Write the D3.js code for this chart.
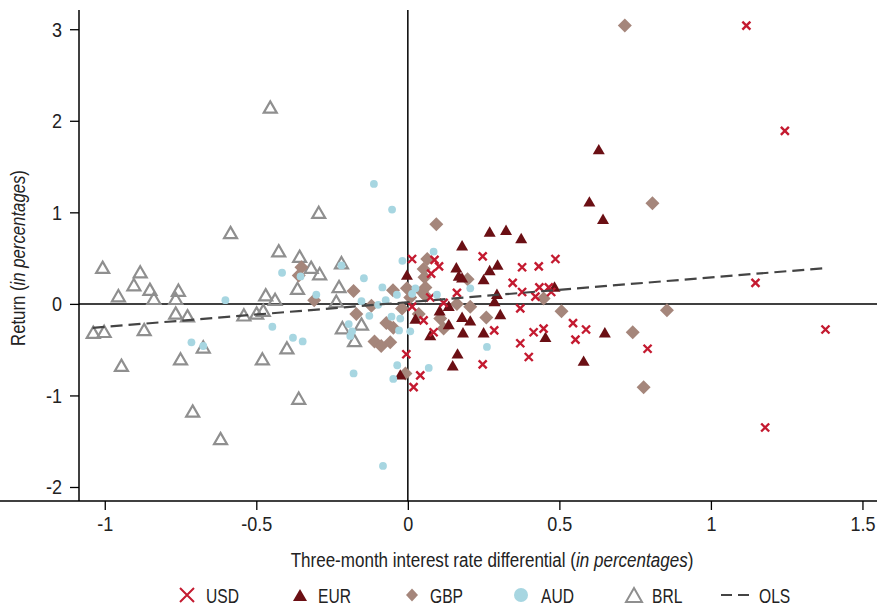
<!DOCTYPE html>
<html>
<head>
<meta charset="utf-8">
<script src="https://cdn.jsdelivr.net/npm/d3@7"></script>
<style>
  html, body { margin: 0; padding: 0; background: #fff; }
  svg { display: block; font-family: "Liberation Sans", Arial, sans-serif; }
</style>
</head>
<body>
<svg id="chart" width="877" height="607"></svg>
<script>
// Three-month interest rate differential (x) vs. return (y), in percentages
const usd = [[1.117,3.04],[1.244,1.89],[1.147,0.23],[1.378,-0.28],[1.179,-1.35],[0.791,-0.49],[0.487,0.49],[0.377,0.40],[0.432,0.41],[0.377,0.13],[0.434,0.18],[0.465,0.18],[0.473,0.13],[0.421,0.08],[0.371,-0.05],[0.545,-0.21],[0.588,-0.28],[0.415,-0.31],[0.448,-0.27],[0.553,-0.39],[0.371,-0.43],[0.399,-0.58],[0.247,0.52],[0.014,0.49],[0.088,0.48],[0.103,0.41],[0.077,0.33],[0.346,0.23],[0.162,0.12],[0.074,0.07],[0.118,0.01],[0.014,-0.03],[0.052,-0.18],[0.085,-0.31],[0.285,-0.29],[0.247,-0.66],[-0.005,-0.55],[0.041,-0.78],[0.019,-0.91]];
const eur = [[0.630,1.69],[0.599,1.12],[0.644,0.93],[0.374,0.72],[0.270,0.79],[0.324,0.81],[0.179,0.64],[0.484,0.19],[0.454,-0.36],[0.650,-0.31],[0.580,-0.62],[0.270,0.37],[0.296,0.43],[0.160,0.40],[0.168,0.31],[-0.003,0.32],[0.250,0.27],[0.179,0.29],[0.294,0.11],[0.286,0.03],[0.135,-0.02],[0.105,-0.07],[0.025,-0.16],[0.135,-0.22],[0.179,-0.14],[0.206,-0.18],[0.074,-0.34],[0.182,-0.31],[0.250,-0.31],[0.305,-0.11],[0.164,-0.54],[0.148,-0.67],[-0.025,-0.77]];
const gbp = [[0.716,3.04],[0.807,1.10],[0.855,-0.07],[0.507,-0.08],[0.448,0.06],[0.742,-0.31],[0.778,-0.91],[0.094,0.87],[0.064,0.49],[0.052,0.38],[0.055,0.29],[0.197,0.27],[0.058,0.18],[0.047,0.13],[-0.049,0.15],[-0.003,0.17],[0.008,0.07],[0.058,0.09],[0.162,0.00],[0.206,-0.03],[-0.019,-0.05],[0.036,-0.11],[0.107,-0.16],[0.118,-0.27],[0.259,-0.15],[-0.008,-0.76],[-0.071,-0.21],[-0.048,-0.26],[-0.058,-0.42],[-0.110,-0.41],[-0.088,-0.46],[-0.170,-0.11],[-0.120,-0.02],[-0.179,0.14],[-0.309,0.04],[-0.351,0.40],[-0.360,0.31]];
const aud = [[-0.112,1.31],[-0.052,1.03],[-0.018,0.47],[0.085,0.57],[-0.415,0.34],[-0.354,0.30],[-0.219,0.42],[-0.145,0.28],[-0.084,0.18],[-0.036,0.10],[-0.073,0.04],[-0.153,0.03],[-0.098,-0.01],[-0.302,0.10],[-0.602,0.04],[-0.447,-0.25],[-0.714,-0.42],[-0.675,-0.46],[-0.127,-0.13],[-0.054,-0.14],[-0.025,-0.16],[-0.029,-0.29],[0.008,-0.30],[-0.379,-0.37],[-0.347,-0.41],[-0.195,-0.22],[-0.184,-0.30],[-0.190,-0.35],[-0.179,-0.76],[-0.035,-0.67],[-0.048,-0.82],[-0.082,-1.77],[0.025,0.17],[0.014,0.11],[0.096,0.10],[0.206,0.17],[0.261,-0.47],[0.069,-0.70]];
const brl = [[-0.454,2.15],[-0.585,0.78],[-0.294,1.00],[-0.426,0.58],[-0.357,0.52],[-0.319,0.40],[-0.291,0.33],[-0.219,0.45],[-0.364,0.17],[-0.227,0.19],[-0.236,0.03],[-0.469,0.10],[-0.438,0.05],[-0.477,-0.07],[-0.499,-0.10],[-0.541,-0.12],[-0.480,-0.60],[-0.399,-0.48],[-0.360,-1.03],[-0.216,-0.26],[-0.153,-0.22],[-0.176,-0.40],[-1.007,0.40],[-0.883,0.35],[-0.904,0.21],[-0.955,0.09],[-0.851,0.16],[-0.838,0.06],[-0.757,0.15],[-0.766,0.06],[-0.766,-0.10],[-0.727,-0.13],[-1.038,-0.31],[-1.002,-0.30],[-0.870,-0.28],[-0.945,-0.67],[-0.750,-0.60],[-0.675,-0.47],[-0.710,-1.17],[-0.618,-1.47]];
// Fitted OLS line, endpoints
const olsX = [-1.04, 1.37];
const olsY = [-0.262, 0.389];

const xTicks = [-1, -0.5, 0, 0.5, 1, 1.5];
const xTickLabels = ["-1", "-0.5", "0", "0.5", "1", "1.5"];
const yTicks = [-2, -1, 0, 1, 2, 3];
const legendLabels = ["USD", "EUR", "GBP", "AUD", "BRL", "OLS"];

const colors = { USD: "#c41a30", EUR: "#6b0f14", GBP: "#a5867b", AUD: "#a7d6e1", BRL: "#8f8f8f", OLS: "#444444" };

const svg = d3.select("#chart");
const plot = { left: 79, right: 877, top: 10, bottom: 501 };

const x = d3.scaleLinear().domain([-1.085, 1.548]).range([plot.left, plot.right]);
const y = d3.scaleLinear().domain([-2.153, 3.210]).range([plot.bottom, plot.top]);

const FS = 20;
const TEXT = "#222";

// Condensed look: squeeze a text horizontally to a given width (or factor)
function squeeze(node, ax, ay, opts) {
  const t = d3.select(node);
  t.attr("x", 0).attr("y", 0).attr("dy", null);
  const w = node.getComputedTextLength();
  const s = opts.width ? opts.width / w : opts.factor;
  t.attr("transform", `translate(${ax},${ay}) ${opts.rotate ? "rotate(" + opts.rotate + ") " : ""}scale(${s},1)`);
}

// zero reference lines
svg.append("line")
  .attr("x1", plot.left).attr("x2", plot.right)
  .attr("y1", y(0)).attr("y2", y(0))
  .attr("stroke", "#000").attr("stroke-width", 1.5);
svg.append("line")
  .attr("x1", x(0)).attr("x2", x(0))
  .attr("y1", plot.top).attr("y2", plot.bottom)
  .attr("stroke", "#000").attr("stroke-width", 1.5);

// axes
const xAxis = svg.append("g")
  .attr("transform", `translate(0,${plot.bottom})`)
  .call(d3.axisBottom(x).tickValues(xTicks).tickFormat((d, i) => xTickLabels[i]).tickSize(9).tickSizeOuter(0));
const yAxis = svg.append("g")
  .attr("transform", `translate(${plot.left},0)`)
  .call(d3.axisLeft(y).tickValues(yTicks).tickFormat(d => String(d)).tickSize(9).tickSizeOuter(0));
[xAxis, yAxis].forEach(g => {
  g.select(".domain").attr("stroke", "#000").attr("stroke-width", 1.5);
  g.selectAll(".tick line").attr("stroke", "#000").attr("stroke-width", 1.3);
  g.selectAll(".tick text").attr("fill", TEXT).attr("font-size", FS).attr("font-family", null);
});
yAxis.select(".domain").attr("d", `M0,${plot.top}V${plot.bottom}`);
xAxis.select(".domain").attr("d", `M0,0H${plot.right}`);
xAxis.selectAll(".tick text").each(function () { squeeze(this, 0, 30, { factor: 0.9 }); });
yAxis.selectAll(".tick text").each(function () { squeeze(this, -17, 7, { factor: 0.9 }); });

// axis titles
const xt = svg.append("text")
  .attr("text-anchor", "middle").attr("font-size", FS).attr("fill", TEXT);
xt.append("tspan").text("Three-month interest rate differential (");
xt.append("tspan").attr("font-style", "italic").text("in percentages");
xt.append("tspan").text(")");
squeeze(xt.node(), 492, 566.5, { width: 403 });

const yt = svg.append("text")
  .attr("text-anchor", "middle").attr("font-size", FS).attr("fill", TEXT);
yt.append("tspan").text("Return (");
yt.append("tspan").attr("font-style", "italic").text("in percentages");
yt.append("tspan").text(")");
squeeze(yt.node(), 25, 258, { width: 176, rotate: -90 });

// marker builders
function crossPath(s) {
  const h = s / 2;
  return `M${-h},${-h}L${h},${h}M${-h},${h}L${h},${-h}`;
}
function triPath(w) {
  const h = w * Math.sqrt(3) / 2;
  return `M0,${-h / 2}L${w / 2},${h / 2}L${-w / 2},${h / 2}Z`;
}
function diamondPath(w, hgt) {
  return `M0,${-hgt / 2}L${w / 2},0L0,${hgt / 2}L${-w / 2},0Z`;
}

const marks = svg.append("g");

// BRL hollow triangles
marks.append("g").selectAll("path").data(brl).join("path")
  .attr("transform", d => `translate(${x(d[0])},${y(d[1])})`)
  .attr("d", triPath(13))
  .attr("fill", "none").attr("stroke", colors.BRL).attr("stroke-width", 2.2);

// GBP diamonds
marks.append("g").selectAll("path").data(gbp).join("path")
  .attr("transform", d => `translate(${x(d[0])},${y(d[1])})`)
  .attr("d", diamondPath(14, 14))
  .attr("fill", colors.GBP);

// EUR filled triangles
marks.append("g").selectAll("path").data(eur).join("path")
  .attr("transform", d => `translate(${x(d[0])},${y(d[1])})`)
  .attr("d", triPath(12))
  .attr("fill", colors.EUR);

// USD crosses
marks.append("g").selectAll("path").data(usd).join("path")
  .attr("transform", d => `translate(${x(d[0])},${y(d[1])})`)
  .attr("d", crossPath(8))
  .attr("fill", "none").attr("stroke", colors.USD).attr("stroke-width", 2.4);

// AUD circles
marks.append("g").selectAll("circle").data(aud).join("circle")
  .attr("cx", d => x(d[0])).attr("cy", d => y(d[1])).attr("r", 3.9)
  .attr("fill", colors.AUD);

// OLS fit
svg.append("path")
  .datum(olsX.map((v, i) => [v, olsY[i]]))
  .attr("d", d3.line().x(d => x(d[0])).y(d => y(d[1])))
  .attr("fill", "none").attr("stroke", colors.OLS).attr("stroke-width", 2.2)
  .attr("stroke-dasharray", "12,6");

// legend
const ly = 595;
const leg = svg.append("g");
const legendX = [187, 300, 412, 521, 634, 735];
const textX = [206, 318, 430, 541, 652, 759];
legendLabels.forEach((lab, i) => {
  const g = leg.append("g").attr("transform", `translate(${legendX[i]},${ly})`);
  if (lab === "USD") {
    g.append("path").attr("d", crossPath(14)).attr("fill", "none").attr("stroke", colors.USD).attr("stroke-width", 2);
  } else if (lab === "EUR") {
    g.append("path").attr("d", triPath(14)).attr("fill", colors.EUR);
  } else if (lab === "GBP") {
    g.append("path").attr("d", diamondPath(12, 13)).attr("fill", colors.GBP);
  } else if (lab === "AUD") {
    g.append("circle").attr("r", 7).attr("fill", colors.AUD);
  } else if (lab === "BRL") {
    g.append("path").attr("d", triPath(16)).attr("fill", "none").attr("stroke", colors.BRL).attr("stroke-width", 2);
  } else {
    g.append("line").attr("x1", -14).attr("x2", 14).attr("y1", 0).attr("y2", 0)
      .attr("stroke", colors.OLS).attr("stroke-width", 2.2).attr("stroke-dasharray", "11,6");
  }
  const t = leg.append("text").attr("font-size", FS).attr("fill", TEXT).text(lab);
  squeeze(t.node(), textX[i], ly + 8, { factor: 0.78 });
});
</script>
</body>
</html>
